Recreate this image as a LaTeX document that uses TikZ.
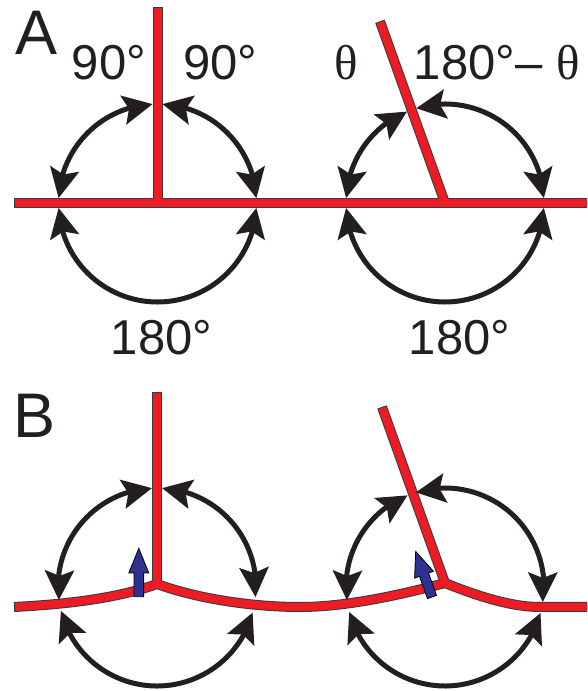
\documentclass[tikz,border=0pt]{standalone}
\usepackage{fontspec}
\setmainfont{Liberation Sans}
\newfontfamily\grk{Liberation Serif}
\usetikzlibrary{calc}
\definecolor{redfill}{HTML}{ED1C24}
\definecolor{rededge}{HTML}{3A3A3A}
\definecolor{ink}{HTML}{231F20}
\definecolor{bluefill}{HTML}{2E3192}
\begin{document}
\begin{tikzpicture}[x=1pt,y=1pt,
  redout/.style={line width=10pt, draw=rededge},
  redin/.style={line width=8pt, draw=redfill},
  arcline/.style={line width=5pt, draw=ink},
  headfill/.style={fill=ink},
  bluearrow/.style={fill=bluefill, draw=black, line width=0.8pt, line join=miter},
  lbl/.style={font=\fontsize{49}{56}\selectfont, text=ink, inner sep=0pt, anchor=base},
  panel/.style={font=\fontsize{63}{70}\selectfont, text=ink, inner sep=0pt, anchor=base west}]
\useasboundingbox (0,0) rectangle (587,691);
% ---------- coordinates, panel A
\coordinate (hA0) at (14,488);
\coordinate (hA1) at (587,488);
\coordinate (jA1) at (157.5,488);
\coordinate (tA1) at (157.5,684);
\coordinate (jA2) at (445,488);
\coordinate (tA2) at ($(jA2)+(109.7:193)$);
\coordinate (cA1) at (157.5,488);
\coordinate (cA2) at (445,488);
% ---------- coordinates, panel B
\coordinate (hB0) at (14,84);
\coordinate (jB1) at (157,107);
\coordinate (mB) at (300,84);
\coordinate (jB2) at (445,108);
\coordinate (eB) at (540,84);
\coordinate (hB1) at (587,84);
\coordinate (tB1) at (157,299);
\coordinate (tB2) at ($(jB2)+(109.7:187)$);
\coordinate (cB1) at (157,104);
\coordinate (cB2) at (445,104);
% ---------- red boundaries: outlines
\draw[redout] (hA0) -- (hA1);
\draw[redout] (jA1) -- (tA1);
\draw[redout] (jA2) -- (tA2);
\draw[redout, looseness=0.8] (hB0) to[out=3,in=200] (jB1) to[out=-20,in=180] (mB)
  to[out=0,in=195] (jB2) to[out=-22,in=180] (eB) -- (hB1);
\draw[redout] (jB1) -- (tB1);
\draw[redout] (jB2) -- (tB2);
% ---------- red boundaries: fill
\draw[redin, shorten <=1pt] (hA0) -- (hA1);
\draw[redin, shorten >=1pt] (jA1) -- (tA1);
\draw[redin, shorten >=1pt] (jA2) -- (tA2);
\draw[redin, looseness=0.8, shorten <=1pt] (hB0) to[out=3,in=200] (jB1) to[out=-20,in=180] (mB)
  to[out=0,in=195] (jB2) to[out=-22,in=180] (eB) -- (hB1);
\draw[redin, shorten >=1pt] (jB1) -- (tB1);
\draw[redin, shorten >=1pt] (jB2) -- (tB2);
% ---------- angle arcs with a head at each end
\foreach \c/\a/\b in {cA1/177.1/92.9, cA1/87.1/2.9, cA1/182.9/357.1,
                      cA2/177.1/112.6, cA2/106.8/2.9, cA2/182.9/357.1,
                      cB1/187.5/93, cB1/87/-5.8, cB1/194/345,
                      cB2/187.6/112.3, cB2/107.1/-8.7, cB2/194.7/344.7}
{
  \pgfmathsetmacro\s{sign(\b-\a)}
  \pgfmathsetmacro\aa{\a+\s*8.7}
  \pgfmathsetmacro\bb{\b-\s*8.7}
  \pgfmathsetmacro\qa{\a+\s*17.4}
  \pgfmathsetmacro\qb{\b-\s*17.4}
  \draw[arcline] ($(\c)+(\aa:99)$) arc[start angle=\aa, end angle=\bb, radius=99];
  \coordinate (tipa) at ($(\c)+(\a:99)$);
  \coordinate (baka) at ($(\c)+(\qa:99)$);
  \coordinate (tipb) at ($(\c)+(\b:99)$);
  \coordinate (bakb) at ($(\c)+(\qb:99)$);
  \fill[headfill] (tipa) -- ($(baka)!15pt!90:(tipa)$) -- ($(baka)!6pt!(tipa)$)
     -- ($(baka)!15pt!-90:(tipa)$) -- cycle;
  \fill[headfill] (tipb) -- ($(bakb)!15pt!90:(tipb)$) -- ($(bakb)!6pt!(tipb)$)
     -- ($(bakb)!15pt!-90:(tipb)$) -- cycle;
}
% ---------- blue arrows
\draw[bluearrow, shift={(138.8,94.3)}] (-4.8,0) -- (-4.8,23.7) -- (-10,23.7) -- (0,48.4)
  -- (10,23.7) -- (4.8,23.7) -- (4.8,0) -- cycle;
\draw[bluearrow, shift={(432,94)}, rotate=19.7] (-4.8,0) -- (-4.8,23.7) -- (-10,23.7) -- (0,48.4)
  -- (10,23.7) -- (4.8,23.7) -- (4.8,0) -- cycle;
% ---------- labels
\node[panel] (labA) at (15,636) {A};
\node[panel] (labB) at (13.5,253) {B};
\node[lbl] (n90l) at (109,611) {90°};
\node[lbl] (n90r) at (220.3,611) {90°};
\node[lbl] (nth) at (346.5,611) {\grk θ};
\node[lbl, anchor=base west] (nsup) at (413.7,611) {180°–~{\grk θ}};
\node[lbl, anchor=base west] (n180l) at (110.7,336) {180°};
\node[lbl, anchor=base west] (n180r) at (408.7,336) {180°};
\end{tikzpicture}
\end{document}
